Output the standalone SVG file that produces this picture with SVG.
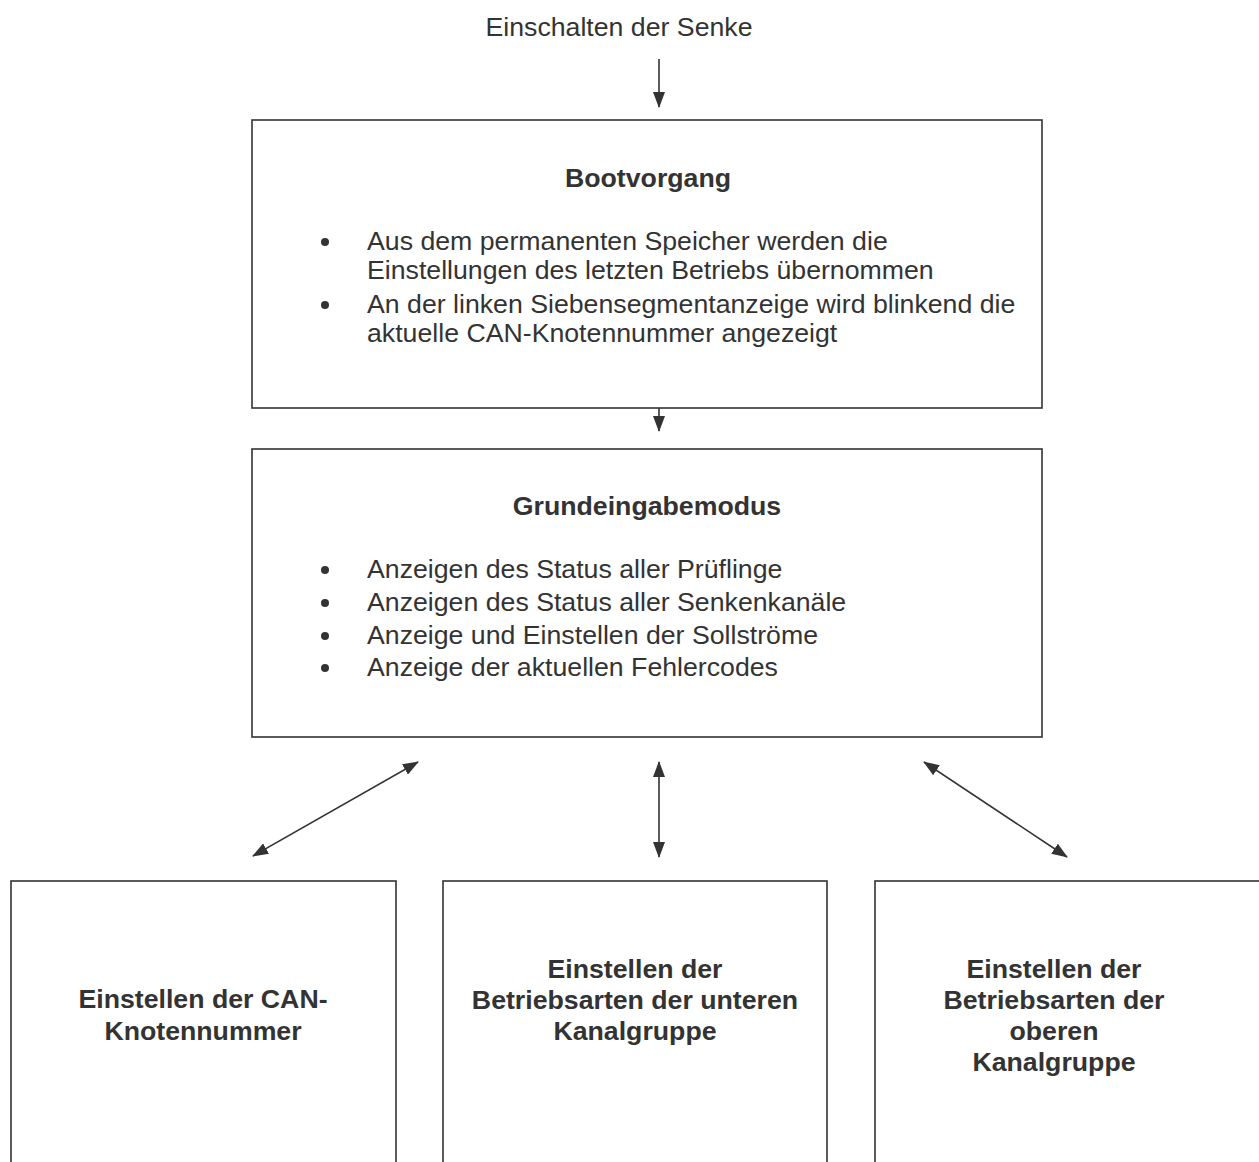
<svg xmlns="http://www.w3.org/2000/svg" width="1259" height="1162" viewBox="0 0 1259 1162">
<style>
text{font-family:"Liberation Sans",Arial,sans-serif;font-size:26.7px;fill:#333}
.b{font-weight:bold}
.c{text-anchor:middle}
.box{fill:#fff;stroke:#333;stroke-width:1.6}
.ln{stroke:#333;stroke-width:1.6;fill:none}
.dot{fill:#333}
</style>
<defs>
<marker id="ah" viewBox="0 0 16 12" refX="15" refY="6" markerWidth="16" markerHeight="12" markerUnits="userSpaceOnUse" orient="auto-start-reverse">
<path d="M0,0 L16,6 L0,12 z" fill="#333"/>
</marker>
</defs>
<rect width="1259" height="1162" fill="#fff"/>
<g id="start">
<text class="c" x="619" y="36">Einschalten der Senke</text>
</g>
<g id="connectors">
<path class="ln" d="M659,59 V107" marker-end="url(#ah)"/>
<path class="ln" d="M659,383 V431" marker-end="url(#ah)"/>
<path class="ln" d="M253,856 L418,762" marker-start="url(#ah)" marker-end="url(#ah)"/>
<path class="ln" d="M659,857 V762" marker-start="url(#ah)" marker-end="url(#ah)"/>
<path class="ln" d="M924,762 L1067,857" marker-start="url(#ah)" marker-end="url(#ah)"/>
</g>
<g id="boot">
<rect class="box" x="252" y="120" width="790" height="288"/>
<text class="b c" x="648" y="187">Bootvorgang</text>
<circle class="dot" cx="325" cy="242" r="4"/>
<text x="367" y="250">Aus dem permanenten Speicher werden die</text>
<text x="367" y="279">Einstellungen des letzten Betriebs übernommen</text>
<circle class="dot" cx="325" cy="305" r="4"/>
<text x="367" y="313">An der linken Siebensegmentanzeige wird blinkend die</text>
<text x="367" y="342">aktuelle CAN-Knotennummer angezeigt</text>
</g>
<g id="grund">
<rect class="box" x="252" y="449" width="790" height="288"/>
<text class="b c" x="647" y="515">Grundeingabemodus</text>
<circle class="dot" cx="325" cy="570" r="4"/>
<text x="367" y="578">Anzeigen des Status aller Prüflinge</text>
<circle class="dot" cx="325" cy="603" r="4"/>
<text x="367" y="611">Anzeigen des Status aller Senkenkanäle</text>
<circle class="dot" cx="325" cy="636" r="4"/>
<text x="367" y="644">Anzeige und Einstellen der Sollströme</text>
<circle class="dot" cx="325" cy="668" r="4"/>
<text x="367" y="676">Anzeige der aktuellen Fehlercodes</text>
</g>
<g id="can">
<rect class="box" x="11" y="881" width="385" height="300"/>
<text class="b c" x="203" y="1008">Einstellen der CAN-</text>
<text class="b c" x="203" y="1040">Knotennummer</text>
</g>
<g id="unten">
<rect class="box" x="443" y="881" width="384" height="300"/>
<text class="b c" x="635" y="978">Einstellen der</text>
<text class="b c" x="635" y="1009">Betriebsarten der unteren</text>
<text class="b c" x="635" y="1040">Kanalgruppe</text>
</g>
<g id="oben">
<rect class="box" x="875" y="881" width="420" height="300"/>
<text class="b c" x="1054" y="978">Einstellen der</text>
<text class="b c" x="1054" y="1009">Betriebsarten der</text>
<text class="b c" x="1054" y="1040">oberen</text>
<text class="b c" x="1054" y="1071">Kanalgruppe</text>
</g>
</svg>
